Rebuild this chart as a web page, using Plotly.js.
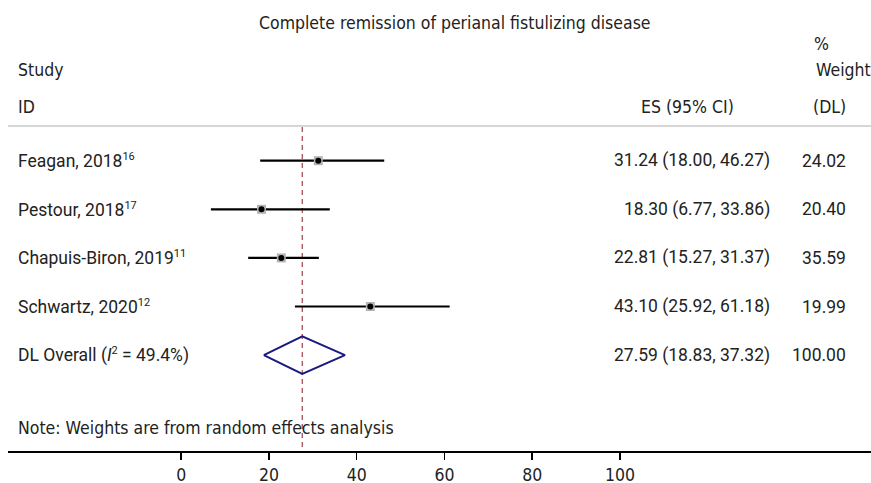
<!DOCTYPE html>
<html><head><meta charset="utf-8">
<script src="https://cdn.plot.ly/plotly-3.0.1.min.js"></script>
<style>html,body{margin:0;padding:0;background:#fff}#chart{width:871px;height:483px}</style>
</head><body><div id="chart"></div>
<script>
// ---- data ----
const studies = ["Feagan, 2018", "Pestour, 2018", "Chapuis-Biron, 2019", "Schwartz, 2020"];
const refs = ["16", "17", "11", "12"];
const es = [31.24, 18.30, 22.81, 43.10];
const ciLow = [18.00, 6.77, 15.27, 25.92];
const ciHigh = [46.27, 33.86, 31.37, 61.18];
const weights = [24.02, 20.40, 35.59, 19.99];
const overallName = "DL Overall";
const overallI2 = 49.4;
const overallES = 27.59, overallLow = 18.83, overallHigh = 37.32, overallWeight = 100.00;
const tickVals = [0, 20, 40, 60, 80, 100];
const titleText = "Complete remission of perianal fistulizing disease";
const noteText = "Note: Weights are from random effects analysis";

// ---- layout helpers ----
const W = 871, H = 483, ML = 8, MB = 32;
const plotW = W - ML, plotH = H - MB;
const px = x => (x - ML) / plotW;
const py = y => (plotH - y) / plotH;
const condensed = "'DejaVu Sans Condensed', 'Liberation Sans Narrow', sans-serif";
const body = "Roboto, 'Noto Sans', sans-serif";
const cSize = 17.5, bSize = 17.5, txt = '#222';
const sup = s => "<sup><span style='font-size:11px'>" + s + "</span></sup>";

const rows = studies.map((_, i) => i);
const overallRow = studies.length;

// CI lines
const ciX = [], ciY = [];
rows.forEach(i => { ciX.push(ciLow[i], ciHigh[i], null); ciY.push(i, i, null); });

const dh = 0.385;
const traces = [
  {x: ciX, y: ciY, mode: 'lines', line: {color: '#000', width: 2.2}, hoverinfo: 'skip', type: 'scatter'},
  {x: es, y: rows, mode: 'markers', marker: {symbol: 'square', size: 9, color: '#b4b4b4'}, type: 'scatter'},
  {x: es, y: rows, mode: 'markers', marker: {symbol: 'circle', size: 6, color: '#000'}, type: 'scatter'},
  {x: [overallLow, overallES, overallHigh, overallES, overallLow],
   y: [overallRow, overallRow - dh, overallRow, overallRow + dh, overallRow],
   mode: 'lines', line: {color: '#1a1a7e', width: 2}, type: 'scatter'}
];

const ann = [];
const A = (o) => ann.push(Object.assign({showarrow: false, xref: 'paper', yref: 'paper', xanchor: 'left', yanchor: 'middle',
  font: {family: condensed, size: cSize, color: txt}}, o));
A({text: titleText, x: px(257), y: py(23)});
A({text: 'Study', x: px(16), y: py(70)});
A({text: 'ID', x: px(16), y: py(107)});
A({text: 'ES (95% CI)', x: px(639), y: py(107)});
A({text: '%', x: px(812), y: py(44)});
A({text: 'Weight', x: px(814), y: py(70)});
A({text: '(DL)', x: px(811), y: py(107)});
A({text: noteText, x: px(16), y: py(428)});

const R = (o) => ann.push(Object.assign({showarrow: false, xref: 'paper', yref: 'y', yanchor: 'middle',
  font: {family: body, size: bSize, color: txt}}, o));
rows.forEach(i => {
  R({x: px(16), y: i, xanchor: 'left', text: studies[i] + sup(refs[i])});
  R({x: px(772), y: i, xanchor: 'right', text: es[i].toFixed(2) + ' (' + ciLow[i].toFixed(2) + ', ' + ciHigh[i].toFixed(2) + ')'});
  R({x: px(848), y: i, xanchor: 'right', text: weights[i].toFixed(2)});
});
R({x: px(16), y: overallRow, xanchor: 'left', text: overallName + ' (<i>I</i>' + sup('2') + ' = ' + overallI2.toFixed(1) + '%)'});
R({x: px(772), y: overallRow, xanchor: 'right', text: overallES.toFixed(2) + ' (' + overallLow.toFixed(2) + ', ' + overallHigh.toFixed(2) + ')'});
R({x: px(848), y: overallRow, xanchor: 'right', text: overallWeight.toFixed(2)});

const k = 4.388, x0px = 181.2;
const rowPx0 = 160.7, rowStep = 48.6;

const layout = {
  width: W, height: H,
  margin: {l: ML, r: 0, t: 0, b: MB},
  paper_bgcolor: '#fff', plot_bgcolor: '#fff',
  showlegend: false,
  xaxis: {range: [(ML - x0px) / k, (W - x0px) / k], tickvals: tickVals, ticktext: tickVals.map(String),
    showline: true, linecolor: '#000', linewidth: 1.5, ticks: 'outside', ticklen: 7, tickwidth: 1.5, tickcolor: '#000',
    showgrid: false, zeroline: false, fixedrange: true,
    tickfont: {family: condensed, size: cSize, color: txt}},
  yaxis: {range: [(plotH - rowPx0) / rowStep, (0 - rowPx0) / rowStep], visible: false, showgrid: false, zeroline: false, fixedrange: true},
  shapes: [
    {type: 'line', xref: 'paper', yref: 'paper', x0: 0, x1: 1, y0: py(126), y1: py(126), line: {color: '#c8c8c8', width: 1.5}},
    {type: 'line', xref: 'x', yref: 'paper', x0: overallES, x1: overallES, y0: py(127), y1: 0, line: {color: '#a0404a', width: 1.2, dash: '5px,4px'}, layer: 'below'}
  ],
  annotations: ann
};

Plotly.newPlot('chart', traces, layout, {displayModeBar: false, staticPlot: true});
</script>
</body></html>
